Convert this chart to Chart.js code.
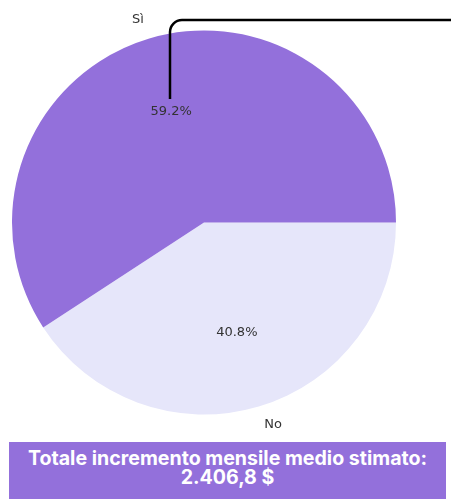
<!DOCTYPE html>
<html lang="it">
<head>
<meta charset="utf-8">
<title>Incremento mensile</title>
<script src="https://cdn.jsdelivr.net/npm/chart.js@4/dist/chart.umd.min.js"></script>
<style>
  html, body { margin: 0; padding: 0; background: #fff; }
  #wrap { position: relative; width: 451px; height: 499px; overflow: hidden; }
  #totale {
    position: absolute; left: 9px; top: 442px; width: 437px; height: 57px;
    box-sizing: border-box; padding-bottom: 6px;
    background: #9370DB; color: #fff;
    font-family: "Inter", "Noto Sans", sans-serif; font-weight: 700;
    font-size: 19.6px; line-height: 19px; text-align: center;
    display: flex; flex-direction: column; justify-content: center;
  }
</style>
</head>
<body>
<div id="wrap">
  <canvas id="graficoTorta" width="451" height="499"></canvas>
  <div id="totale">
    <span id="totaleTitolo"></span>
    <span id="totaleValore"></span>
  </div>
</div>
<script>
// Dati del grafico
const categorie = ['Sì', 'No'];
const valori = [59.2, 40.8];
const colori = ['#9370DB', '#E6E6FA'];
const titoloTotale = 'Totale incremento mensile medio stimato:';
const valoreTotale = '2.406,8 $';

document.getElementById('totaleTitolo').textContent = titoloTotale;
document.getElementById('totaleValore').textContent = valoreTotale;

// Chart.js gira in senso orario: invertiamo l'ordine per avere "Sì" in senso antiorario da ore 3
const ordine = [1, 0];

// Etichette: percentuale dentro la fetta, nome fuori, più la linea di richiamo su "Sì"
const etichettePlugin = {
  id: 'etichette',
  afterDraw(chart) {
    const ctx = chart.ctx;
    const meta = chart.getDatasetMeta(0);
    const totale = valori.reduce((a, b) => a + b, 0);
    ctx.save();
    ctx.font = '13px "DejaVu Sans"';
    ctx.fillStyle = '#333';
    ctx.textBaseline = 'middle';
    meta.data.forEach((arco, i) => {
      const idx = ordine[i];
      const p = arco.getProps(['x', 'y', 'startAngle', 'endAngle', 'outerRadius'], true);
      const mid = (p.startAngle + p.endAngle) / 2;
      const r = p.outerRadius;
      // percentuale a 0.6 del raggio
      const px = p.x + Math.cos(mid) * r * 0.6;
      const py = p.y + Math.sin(mid) * r * 0.6;
      ctx.textAlign = 'center';
      ctx.fillText((valori[idx] / totale * 100).toFixed(1) + '%', px, py);
      // nome categoria a 1.1 del raggio
      const lx = p.x + Math.cos(mid) * r * 1.1;
      const ly = p.y + Math.sin(mid) * r * 1.1;
      ctx.textAlign = lx < p.x ? 'right' : 'left';
      ctx.fillText(categorie[idx], lx, ly);

      if (idx === 0) {
        // linea di richiamo dalla percentuale verso il bordo destro
        const x0 = Math.round(px) - 1;
        const yBasso = py - 13;
        const yAlto = 20;
        const rag = 12;
        ctx.beginPath();
        ctx.strokeStyle = '#000';
        ctx.lineWidth = 2.5;
        ctx.lineCap = 'butt';
        ctx.moveTo(x0, yBasso);
        ctx.lineTo(x0, yAlto + rag);
        ctx.arcTo(x0, yAlto, x0 + rag, yAlto, rag);
        ctx.lineTo(chart.width + 5, yAlto);
        ctx.stroke();
      }
    });
    ctx.restore();
  }
};

new Chart(document.getElementById('graficoTorta'), {
  type: 'pie',
  data: {
    labels: ordine.map(i => categorie[i]),
    datasets: [{
      data: ordine.map(i => valori[i]),
      backgroundColor: ordine.map(i => colori[i]),
      borderWidth: 0
    }]
  },
  options: {
    responsive: false,
    devicePixelRatio: 1,
    animation: false,
    rotation: 90,
    layout: { padding: { left: 12, right: 55, top: 30, bottom: 84 } },
    plugins: {
      legend: { display: false },
      tooltip: { enabled: false }
    }
  },
  plugins: [etichettePlugin]
});
</script>
</body>
</html>
